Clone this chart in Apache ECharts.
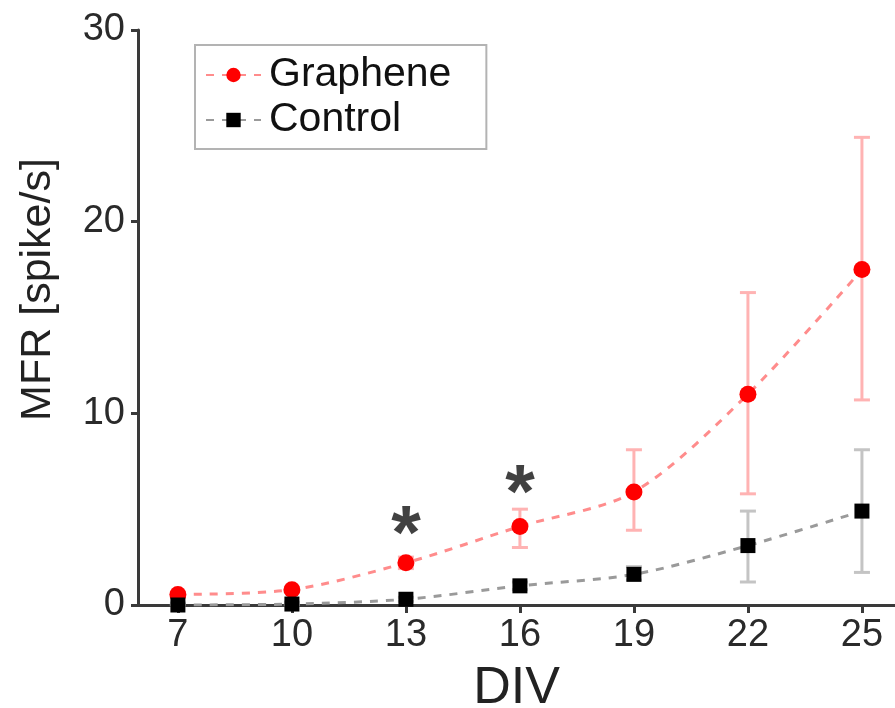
<!DOCTYPE html>
<html>
<head>
<meta charset="utf-8">
<script src="https://cdn.jsdelivr.net/npm/echarts@6/dist/echarts.min.js"></script>
<style>
  html, body { margin: 0; padding: 0; background: #fff; }
  #chart { width: 895px; height: 708px; }
</style>
</head>
<body>
<div id="chart"></div>
<script>
// Days in vitro sampled
const divDays = [7, 10, 13, 16, 19, 22, 25];

// Mean firing rate (spike/s) with lower / upper error limits
const grapheneMean = [0.55, 0.8, 2.2, 4.1, 5.9, 11.0, 17.5];
const grapheneLow  = [0.45, 0.7, 1.9, 3.0, 3.9, 5.8, 10.7];
const grapheneHigh = [0.65, 0.9, 2.5, 5.0, 8.1, 16.3, 24.4];

const controlMean = [0.0, 0.05, 0.3, 1.0, 1.6, 3.1, 4.9];
const controlLow  = [0.0, 0.0, 0.2, 0.8, 1.3, 1.2, 1.7];
const controlHigh = [0.1, 0.15, 0.4, 1.2, 2.0, 4.9, 8.1];

// Significance markers: day and height of the asterisk
const sigDays = [13, 16];
const sigLevel = [4.4, 6.5];

const yTicks = [0, 10, 20, 30];

const FONT = '"Liberation Sans", Arial, sans-serif';

function pairs(xs, ys) { return xs.map((x, i) => [x, ys[i]]); }
function errRows(xs, lo, hi) { return xs.map((x, i) => [x, lo[i], hi[i]]); }

function errorBars(color) {
  return function (params, api) {
    const x = api.value(0);
    const lo = api.coord([x, api.value(1)]);
    const hi = api.coord([x, api.value(2)]);
    const cap = 8;
    const style = { stroke: color, lineWidth: 3, fill: null };
    return {
      type: 'group',
      children: [
        { type: 'line', shape: { x1: hi[0], y1: hi[1], x2: lo[0], y2: lo[1] }, style },
        { type: 'line', shape: { x1: hi[0] - cap, y1: hi[1], x2: hi[0] + cap, y2: hi[1] }, style },
        { type: 'line', shape: { x1: lo[0] - cap, y1: lo[1], x2: lo[0] + cap, y2: lo[1] }, style }
      ]
    };
  };
}

const chart = echarts.init(document.getElementById('chart'), null, { renderer: 'canvas' });

chart.setOption({
  animation: false,
  backgroundColor: '#ffffff',
  textStyle: { fontFamily: FONT },
  grid: { left: 138, right: 0, top: 30, bottom: 103, containLabel: false, outerBoundsMode: 'none' },
  legend: {
    orient: 'vertical',
    left: 195,
    top: 45,
    padding: [8, 35, 7, 10],
    itemGap: 1,
    itemWidth: 55,
    itemHeight: 18,
    borderColor: '#b3b3b3',
    borderWidth: 2,
    textStyle: { fontSize: 41, lineHeight: 44, color: '#111', fontFamily: FONT, padding: [0, 0, 0, 3] },
    data: ['Graphene', 'Control']
  },
  xAxis: {
    type: 'value',
    min: 5.95,
    max: 25.87,
    name: 'DIV',
    nameLocation: 'middle',
    nameGap: 58,
    nameTextStyle: { fontSize: 52, color: '#222', fontFamily: FONT },
    splitLine: { show: false },
    axisLine: { onZero: false, lineStyle: { color: '#3a3a3a', width: 3 } },
    axisTick: { show: true, length: 8, lineStyle: { color: '#3a3a3a', width: 3 }, customValues: divDays },
    axisLabel: { fontSize: 38, color: '#2a2a2a', margin: 12, customValues: divDays }
  },
  yAxis: {
    type: 'value',
    min: 0,
    max: 30,
    name: 'MFR [spike/s]',
    nameLocation: 'middle',
    nameGap: 78,
    nameRotate: 90,
    nameTextStyle: { fontSize: 43, color: '#222', fontFamily: FONT, padding: [0, 0, 0, 56] },
    splitLine: { show: false },
    axisLine: { show: true, lineStyle: { color: '#3a3a3a', width: 3 } },
    axisTick: { show: true, length: 7, lineStyle: { color: '#3a3a3a', width: 3 }, customValues: yTicks },
    axisLabel: { fontSize: 38, color: '#2a2a2a', margin: 13, customValues: yTicks }
  },
  series: [
    {
      name: 'Graphene-err',
      type: 'custom',
      renderItem: errorBars('#ffb3b3'),
      data: errRows(divDays, grapheneLow, grapheneHigh),
      encode: { x: 0, y: [1, 2] },
      z: 1,
      silent: true
    },
    {
      name: 'Control-err',
      type: 'custom',
      renderItem: errorBars('#c4c4c4'),
      data: errRows(divDays, controlLow, controlHigh),
      encode: { x: 0, y: [1, 2] },
      z: 1,
      silent: true
    },
    {
      name: 'Graphene',
      type: 'line',
      data: pairs(divDays, grapheneMean),
      smooth: 0.3,
      symbol: 'circle',
      symbolSize: 17,
      itemStyle: { color: '#ff0000' },
      lineStyle: { color: '#ff8c8c', width: 3, type: [8, 8] },
      z: 3
    },
    {
      name: 'Control',
      type: 'line',
      data: pairs(divDays, controlMean),
      smooth: 0.3,
      symbol: 'rect',
      symbolSize: 15,
      itemStyle: { color: '#000000' },
      lineStyle: { color: '#9a9a9a', width: 3, type: [8, 8] },
      z: 4
    },
    {
      name: 'sig',
      type: 'scatter',
      data: pairs(sigDays, sigLevel),
      symbolSize: 0,
      itemStyle: { color: 'rgba(0,0,0,0)' },
      label: {
        show: true,
        position: 'inside',
        formatter: '*',
        fontSize: 76,
        fontWeight: 'bold',
        color: '#111',
        fontFamily: FONT,
        offset: [0, 16]
      },
      z: 5,
      silent: true
    }
  ]
});
</script>
</body>
</html>
